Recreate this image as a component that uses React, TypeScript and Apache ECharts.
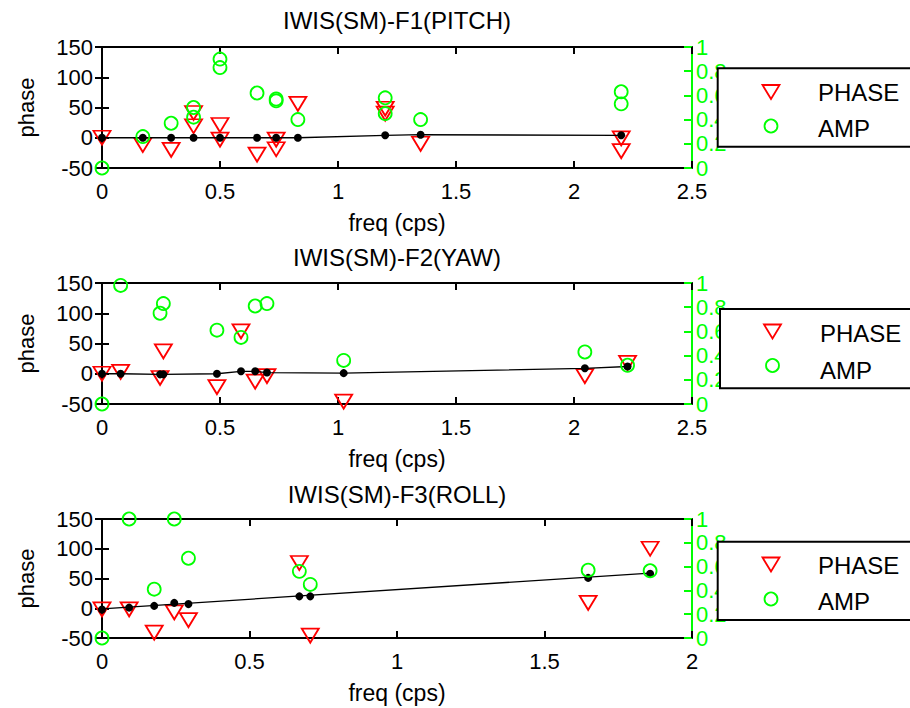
import React, { useEffect, useRef } from "react";
import * as echarts from "echarts";

// ---------- data ----------
const panelTitles = ["IWIS(SM)-F1(PITCH)", "IWIS(SM)-F2(YAW)", "IWIS(SM)-F3(ROLL)"];
const xMaxes = [2.5, 2.5, 2];
const legendNames = ["PHASE", "AMP"];
const xAxisName = "freq (cps)";
const yAxisName = "phase";

// Panel 1 (PITCH)
const freq1 = [0, 0.173, 0.293, 0.388, 0.388, 0.5, 0.5, 0.657, 0.738, 0.738, 0.83, 1.2, 1.2, 1.35, 2.2, 2.2];
const phase1 = [0, -12, -20, 41, 19, 21, -3, -28, -3, -19, 56, 48, 40, -10, -1, -22];
const amp1 = [0, 0.26, 0.37, 0.5, 0.42, 0.9, 0.83, 0.62, 0.57, 0.555, 0.4, 0.58, 0.45, 0.4, 0.63, 0.53];
const dotFreq1 = [0, 0.173, 0.293, 0.388, 0.5, 0.657, 0.738, 0.83, 1.2, 1.35, 2.2];
const dotPhase1 = [0, 0, 0, 0, 0, 0, 0, 0, 4, 5, 4];
const lineFreq1 = dotFreq1;
const linePhase1 = dotPhase1;

// Panel 2 (YAW)
const freq2 = [0, 0.079, 0.246, 0.26, 0.487, 0.589, 0.649, 0.699, 1.024, 2.046, 2.227];
const phase2 = [0, 3, -7, 37, -22, 70, -13, -4, -46, -4, 18];
const amp2 = [0, 0.98, 0.75, 0.83, 0.61, 0.55, 0.81, 0.83, 0.36, 0.43, 0.32];
const dotFreq2 = freq2;
const dotPhase2 = [0, 0, -1, -1, 0, 4, 4, 2, 1, 9, 12];
const lineFreq2 = dotFreq2;
const linePhase2 = dotPhase2;

// Panel 3 (ROLL)
const freq3 = [0, 0.092, 0.177, 0.245, 0.293, 0.669, 0.706, 1.648, 1.858];
const phase3 = [-2, -2, -41, -7, -20, 76, -46, 9, 100];
const amp3 = [0, 1.0, 0.41, 1.0, 0.67, 0.56, 0.45, 0.57, 0.565];
const dotFreq3 = freq3;
const dotPhase3 = [-2, 1, 4, 9, 7, 20, 20, 51, 58];
const lineFreq3 = [0, 1.858];
const linePhase3 = [-1, 59];

const panels = [
  { freq: freq1, phase: phase1, amp: amp1, dotFreq: dotFreq1, dotPhase: dotPhase1, lineFreq: lineFreq1, linePhase: linePhase1 },
  { freq: freq2, phase: phase2, amp: amp2, dotFreq: dotFreq2, dotPhase: dotPhase2, lineFreq: lineFreq2, linePhase: linePhase2 },
  { freq: freq3, phase: phase3, amp: amp3, dotFreq: dotFreq3, dotPhase: dotPhase3, lineFreq: lineFreq3, linePhase: linePhase3 },
];

// ---------- layout ----------
const FONT = "'Liberation Sans', Arial, Helvetica, sans-serif";
const gridLeft = 102;
const gridWidth = 590;
const gridTops = [47, 283, 519];
const gridHeights = [121, 121, 119];
const titleY = [20.5, 257, 494];
const legendBoxes = [
  { x: 717.7, y: 68.3, h: 78.4, symX: 771, triY: 91.5, cirY: 126, textX: 818, t1: 92, t2: 128.5 },
  { x: 720, y: 309, h: 79.3, symX: 772.5, triY: 331, cirY: 365.5, textX: 820, t1: 333.7, t2: 370 },
  { x: 717.7, y: 541.7, h: 78.3, symX: 771, triY: 564, cirY: 599, textX: 818, t1: 565.5, t2: 601.5 },
];

const zip = (a: number[], b: number[]) => a.map((v, i) => [v, b[i]]);

function buildOption() {
  const grid: any[] = [];
  const xAxis: any[] = [];
  const yAxis: any[] = [];
  const series: any[] = [];
  const graphic: any[] = [];

  panels.forEach((p, i) => {
    grid.push({ left: gridLeft, width: gridWidth, top: gridTops[i], height: gridHeights[i], outerBoundsMode: "none", containLabel: false });

    const baseX = {
      gridIndex: i,
      type: "value",
      min: 0,
      max: xMaxes[i],
      interval: 0.5,
      splitLine: { show: false },
      axisLine: { show: true, onZero: false, lineStyle: { color: "#000", width: 2 } },
      axisTick: { show: true, inside: true, length: 7, lineStyle: { color: "#000", width: 2 } },
    };
    xAxis.push({
      ...baseX,
      position: "bottom",
      axisLabel: { show: true, color: "#000", fontSize: 22, fontFamily: FONT, margin: 12, showMinLabel: true, showMaxLabel: true },
      name: xAxisName,
      nameLocation: "middle",
      nameGap: 43,
      nameTextStyle: { color: "#000", fontSize: 23, fontFamily: FONT },
    });
    xAxis.push({ ...baseX, position: "top", axisLabel: { show: false } });

    const basePhase = {
      gridIndex: i,
      type: "value",
      min: -50,
      max: 150,
      interval: 50,
      splitLine: { show: false },
      axisTick: { show: true, inside: true, length: 7, lineStyle: { color: "#000", width: 2 } },
    };
    yAxis.push({
      ...basePhase,
      position: "left",
      axisLine: { show: true, onZero: false, lineStyle: { color: "#000", width: 2 } },
      axisLabel: { show: true, color: "#000", fontSize: 22, fontFamily: FONT, margin: 9, showMinLabel: true, showMaxLabel: true },
      name: yAxisName,
      nameLocation: "middle",
      nameGap: 65,
      nameTextStyle: { color: "#000", fontSize: 22, fontFamily: FONT },
    });
    yAxis.push({
      ...basePhase,
      position: "right",
      axisLine: { show: false },
      axisLabel: { show: false },
    });
    yAxis.push({
      gridIndex: i,
      type: "value",
      min: 0,
      max: 1,
      interval: 0.2,
      position: "right",
      splitLine: { show: false },
      axisLine: { show: true, onZero: false, lineStyle: { color: "#00ff00", width: 2 } },
      axisTick: { show: true, inside: true, length: 8, lineStyle: { color: "#00ff00", width: 2 } },
      axisLabel: { show: true, color: "#00ff00", fontSize: 22, fontFamily: FONT, margin: 4, showMinLabel: true, showMaxLabel: true },
    });

    const xi = 2 * i;
    const yPhase = 3 * i;
    const yAmp = 3 * i + 2;

    series.push({
      type: "scatter",
      name: legendNames[0],
      xAxisIndex: xi,
      yAxisIndex: yPhase,
      data: zip(p.freq, p.phase),
      symbol: "triangle",
      symbolRotate: 180,
      symbolSize: [17, 14],
      itemStyle: { color: "rgba(0,0,0,0)", borderColor: "#ff0000", borderWidth: 1.8, opacity: 1 },
      clip: false,
      silent: true,
      z: 2,
    });
    series.push({
      type: "line",
      xAxisIndex: xi,
      yAxisIndex: yPhase,
      data: zip(p.lineFreq, p.linePhase),
      showSymbol: false,
      lineStyle: { color: "#000", width: 1.3, opacity: 1 },
      silent: true,
      z: 3,
    });
    series.push({
      type: "scatter",
      xAxisIndex: xi,
      yAxisIndex: yPhase,
      data: zip(p.dotFreq, p.dotPhase),
      symbol: "circle",
      symbolSize: 8,
      itemStyle: { color: "#000", opacity: 1 },
      clip: false,
      silent: true,
      z: 4,
    });
    series.push({
      type: "scatter",
      name: legendNames[1],
      xAxisIndex: xi,
      yAxisIndex: yAmp,
      data: zip(p.freq, p.amp),
      symbol: "circle",
      symbolSize: 13,
      itemStyle: { color: "rgba(0,0,0,0)", borderColor: "#00ff00", borderWidth: 1.8, opacity: 1 },
      clip: false,
      silent: true,
      z: 5,
    });

    // title
    graphic.push({
      type: "text",
      x: gridLeft + gridWidth / 2,
      y: titleY[i],
      z: 100,
      style: { text: panelTitles[i], fill: "#000", fontSize: 24, fontFamily: FONT, align: "center", verticalAlign: "middle" },
    });

    // legend box
    const lb = legendBoxes[i];
    graphic.push({
      type: "group",
      z: 100,
      children: [
        { type: "rect", shape: { x: lb.x, y: lb.y, width: 260, height: lb.h }, style: { fill: "#fff", stroke: "#000", lineWidth: 2 }, z: 100 },
        {
          type: "polygon",
          shape: { points: [[lb.symX - 8.5, lb.triY - 6.5], [lb.symX + 8.5, lb.triY - 6.5], [lb.symX, lb.triY + 7.5]] },
          style: { fill: "none", stroke: "#ff0000", lineWidth: 1.8 },
          z: 101,
        },
        { type: "circle", shape: { cx: lb.symX, cy: lb.cirY, r: 6.5 }, style: { fill: "none", stroke: "#00ff00", lineWidth: 1.8 }, z: 101 },
        { type: "text", x: lb.textX, y: lb.t1, style: { text: legendNames[0], fill: "#000", fontSize: 24, fontFamily: FONT, verticalAlign: "middle" }, z: 101 },
        { type: "text", x: lb.textX, y: lb.t2, style: { text: legendNames[1], fill: "#000", fontSize: 24, fontFamily: FONT, verticalAlign: "middle" }, z: 101 },
      ],
    });
  });

  return {
    animation: false,
    backgroundColor: "#fff",
    grid,
    xAxis,
    yAxis,
    series,
    graphic,
  };
}

export default function App() {
  const ref = useRef<HTMLDivElement>(null);
  useEffect(() => {
    if (!ref.current) return;
    const chart = echarts.init(ref.current, undefined, { renderer: "svg" });
    chart.setOption(buildOption() as any);
    return () => chart.dispose();
  }, []);
  return <div ref={ref} style={{ position: "absolute", left: 0, top: 0, width: 910, height: 708 }} />;
}
